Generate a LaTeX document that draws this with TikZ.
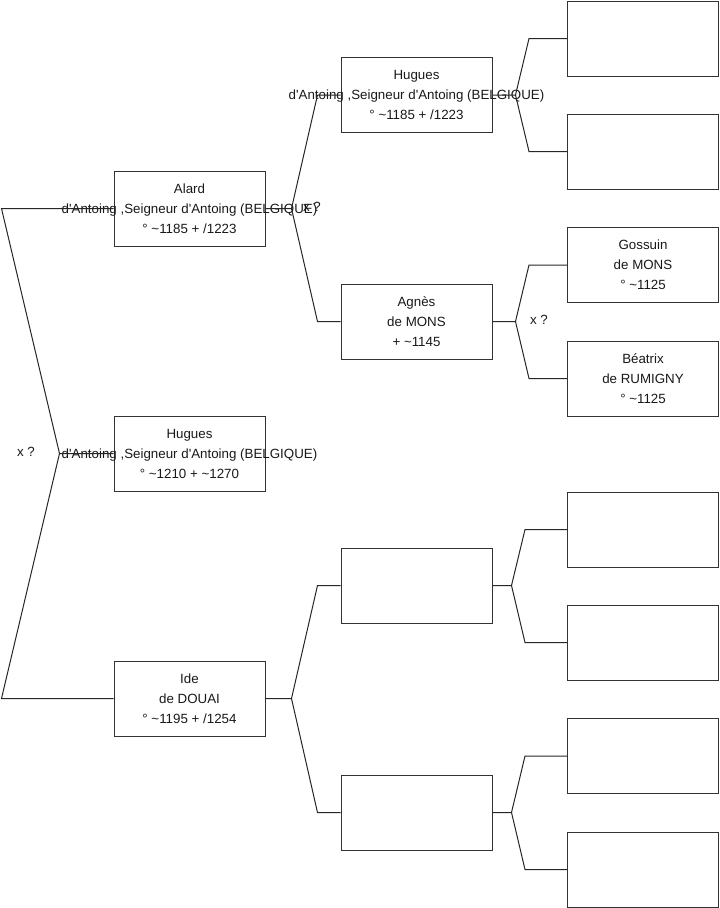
\documentclass[tikz,border=0pt]{standalone}
\usepackage{fontspec}
\setmainfont{Liberation Sans}
\newcommand{\tld}{\textasciitilde}
\newcommand{\apos}{\textquotesingle}

\begin{document}
\begin{tikzpicture}[x=0.75pt, y=-0.75pt,
    person/.style={rectangle, draw=black!80, fill=white, line width=0.75pt,
        minimum width=113.25pt, minimum height=56.25pt, inner sep=0pt},
    who/.style={align=center, text=black!90, inner sep=0pt,
        font=\fontsize{10}{15}\selectfont},
    link/.style={draw=black!85, line width=0.75pt}]
    \useasboundingbox (0,0) rectangle (719,908);

    % Draw nodes
    \node[person] (alard) at (189.5,208.5) {};
    \node[person] (hugues) at (189.5,453.5) {};
    \node[person] (ide) at (189.5,698.5) {};
    \node[person] (huguesA) at (416.5,95) {};
    \node[person] (agnes) at (416.5,321.5) {};
    \node[person] (ideF) at (416.5,585.5) {};
    \node[person] (ideM) at (416.5,812.5) {};
    \node[person] (huguesAF) at (643,38.5) {};
    \node[person] (huguesAM) at (643,151.5) {};
    \node[person] (gossuin) at (643,265) {};
    \node[person] (beatrix) at (643,378.5) {};
    \node[person] (ideFF) at (643,529.5) {};
    \node[person] (ideFM) at (643,642.5) {};
    \node[person] (ideMF) at (643,756) {};
    \node[person] (ideMM) at (643,869.5) {};

    % Names
    \node[who] (alardT) at (alard) {Alard\\d\apos Antoing ,Seigneur d\apos Antoing (BELGIQUE)\\° \tld 1185 + /1223};
    \node[who] (huguesT) at (hugues) {Hugues\\d\apos Antoing ,Seigneur d\apos Antoing (BELGIQUE)\\° \tld 1210 + \tld 1270};
    \node[who] (ideT) at (ide) {Ide\\de DOUAI\\° \tld 1195 + /1254};
    \node[who] (huguesAT) at (huguesA) {Hugues\\d\apos Antoing ,Seigneur d\apos Antoing (BELGIQUE)\\° \tld 1185 + /1223};
    \node[who] (agnesT) at (agnes) {Agnès\\de MONS\\+ \tld 1145};
    \node[who] (gossuinT) at (gossuin) {Gossuin\\de MONS\\° \tld 1125};
    \node[who] (beatrixT) at (beatrix) {Béatrix\\de RUMIGNY\\° \tld 1125};

    % Draw connections
    \draw[link] (hugues.west) -- ++(-54,0) coordinate (fRoot) -- ([xshift=-84pt]alard.west) -- (alard.west);
    \draw[link] (fRoot) -- ([xshift=-84pt]ide.west) -- (ide.west);
    \draw[link] (alard.east) -- ++(26,0) coordinate (fAlard) -- ([xshift=-17.25pt]huguesA.west) -- (huguesA.west);
    \draw[link] (fAlard) -- ([xshift=-17.25pt]agnes.west) -- (agnes.west);
    \draw[link] (ide.east) -- ++(26,0) coordinate (fIde) -- ([xshift=-17.25pt]ideF.west) -- (ideF.west);
    \draw[link] (fIde) -- ([xshift=-17.25pt]ideM.west) -- (ideM.west);
    \draw[link] (huguesA.east) -- ++(23,0) coordinate (fHuguesA) -- ([xshift=-28.5pt]huguesAF.west) -- (huguesAF.west);
    \draw[link] (fHuguesA) -- ([xshift=-28.5pt]huguesAM.west) -- (huguesAM.west);
    \draw[link] (agnes.east) -- ++(23,0) coordinate (fAgnes) -- ([xshift=-28.5pt]gossuin.west) -- (gossuin.west);
    \draw[link] (fAgnes) -- ([xshift=-28.5pt]beatrix.west) -- (beatrix.west);
    \draw[link] (ideF.east) -- ++(19,0) coordinate (fIdeF) -- ([xshift=-31.5pt]ideFF.west) -- (ideFF.west);
    \draw[link] (fIdeF) -- ([xshift=-31.5pt]ideFM.west) -- (ideFM.west);
    \draw[link] (ideM.east) -- ++(19,0) coordinate (fIdeM) -- ([xshift=-31.5pt]ideMF.west) -- (ideMF.west);
    \draw[link] (fIdeM) -- ([xshift=-31.5pt]ideMM.west) -- (ideMM.west);

    % Labels
    \node[who] (xRoot) at (26,452) {x ?};
    \node[who] (xAlard) at (312,207) {x ?};
    \node[who] (xAgnes) at (539,320) {x ?};
\end{tikzpicture}
\end{document}
